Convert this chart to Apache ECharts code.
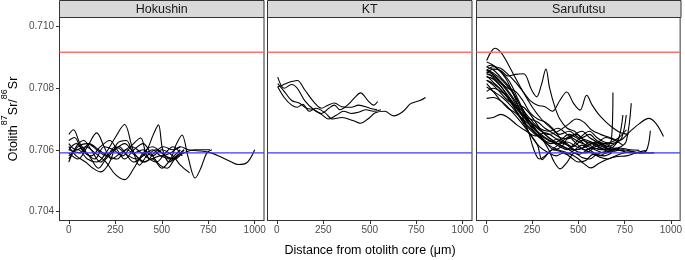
<!DOCTYPE html>
<html>
<head>
<meta charset="utf-8">
<script src="https://cdn.jsdelivr.net/npm/echarts@6/dist/echarts.min.js"></script>
<style>
html, body { margin: 0; padding: 0; background: #fff; }
#chart { width: 685px; height: 260px; }
</style>
</head>
<body>
<div id="chart"></div>
<script>
// facets, ticks and reference ratios
var panelNames = ['Hokushin', 'KT', 'Sarufutsu'];
var xTicks = [0, 250, 500, 750, 1000];
var yTicks = [0.704, 0.706, 0.708, 0.710];
var xLimits = [-50, 1050];
var yLimits = [0.7037, 0.7103];
var redRatio = 0.70917;
var blueRatio = 0.70590;

// one array of [distance, ratio] per fish
var hokushin = [
	[[0,0.7057],[50,0.7061],[100,0.7062],[150,0.7060],[200,0.7058],[250,0.7061],[300,0.7059],[350,0.7056],[400,0.7058],[450,0.7060],[500,0.7058],[550,0.7059],[600,0.7061],[644,0.7060],[724,0.70595],[769,0.70589],[813,0.70578],[870,0.70562],[911,0.70552],[956,0.70557],[1000,0.7060]],
	[[0,0.7060],[40,0.7062],[90,0.7059],[140,0.7057],[190,0.7061],[240,0.7060],[290,0.7058],[340,0.7061],[390,0.7059],[440,0.7057],[490,0.7058],[540,0.7057],[580,0.7062],[609,0.70648],[640,0.7058],[680,0.70508],[710,0.7054],[742,0.70589],[770,0.7060]],
	[[0,0.7058],[50,0.7060],[100,0.7057],[150,0.7056],[200,0.7059],[250,0.7064],[300,0.70682],[340,0.7061],[380,0.7055],[420,0.7058],[470,0.7060],[520,0.7058],[570,0.7057],[620,0.7060]],
	[[0,0.7062],[40,0.7060],[90,0.7061],[140,0.7059],[200,0.7056],[250,0.7052],[300,0.70503],[350,0.7054],[400,0.7059],[450,0.7061],[500,0.7059],[550,0.7057],[600,0.7059]],
	[[0,0.7056],[40,0.7061],[80,0.7063],[120,0.7060],[170,0.7056],[220,0.7059],[270,0.7061],[320,0.7058],[370,0.7057],[420,0.7060],[455,0.7065],[482,0.70681],[505,0.7060],[540,0.7056],[580,0.7058],[620,0.7060]],
	[[0,0.7065],[25,0.70665],[60,0.7062],[110,0.7058],[160,0.7054],[200,0.7057],[250,0.7060],[300,0.7062],[350,0.7059],[400,0.7056],[450,0.7057],[500,0.7054],[550,0.7057],[600,0.7060]],
	[[0,0.7059],[50,0.7057],[100,0.7061],[150,0.70655],[190,0.7061],[230,0.7057],[280,0.7059],[330,0.7061],[386,0.70638],[420,0.7058],[470,0.7056],[520,0.7059],[560,0.7061],[610,0.7058]],
	[[0,0.7061],[40,0.7058],[90,0.7056],[130,0.7054],[172,0.70528],[220,0.7056],[260,0.7062],[310,0.7063],[350,0.7059],[400,0.7060],[450,0.7058],[500,0.7060],[560,0.7058],[600,0.7055],[650,0.70525]],
	[[0,0.7063],[30,0.7064],[70,0.7060],[120,0.7058],[170,0.7061],[220,0.7063],[260,0.7060],[300,0.7057],[350,0.7060],[400,0.7062],[440,0.7059],[490,0.7055],[530,0.7054],[570,0.7057],[620,0.7059],[680,0.7060],[760,0.7060]],
	[[0,0.7060],[60,0.7059],[110,0.7062],[160,0.7060],[210,0.7058],[260,0.7057],[310,0.7060],[360,0.7058],[410,0.7056],[460,0.7059],[510,0.7061],[560,0.7060],[600,0.7061]]
];

var kt = [
	[[5,0.70836],[40,0.70800],[80,0.70812],[110,0.70800],[150,0.70760],[200,0.70730],[240,0.70718],[280,0.70735],[310,0.70745],[340,0.70730],[380,0.70745],[420,0.70770],[450,0.70785],[490,0.70760],[520,0.70745],[543,0.70757]],
	[[5,0.70805],[40,0.70770],[80,0.70745],[110,0.70738],[140,0.70748],[175,0.70725],[210,0.70735],[260,0.70720],[300,0.70700],[350,0.70705],[410,0.70695],[450,0.70686],[490,0.70700],[530,0.70720],[580,0.70725],[628,0.70710],[680,0.70725],[720,0.70750],[770,0.70760],[800,0.70770]],
	[[5,0.70805],[30,0.70810],[70,0.70820],[110,0.70825],[150,0.70795],[200,0.70755],[240,0.70735],[275,0.70745],[310,0.70752],[350,0.70740],[400,0.70738],[440,0.70745],[500,0.70735],[540,0.70730]],
	[[5,0.70815],[40,0.70790],[80,0.70760],[120,0.70752],[160,0.70735],[200,0.70730],[240,0.70715],[280,0.70700],[320,0.70712],[360,0.70725],[400,0.70718],[440,0.70722],[480,0.70730],[520,0.70725],[560,0.70730]]
];

var sarufutsu = [
	[[5,0.70890],[30,0.70920],[50,0.70930],[80,0.70918],[110,0.70890],[150,0.70845],[200,0.70790],[250,0.70740],[300,0.70700],[350,0.70672],[400,0.70650],[450,0.70660],[500,0.70640],[550,0.70630],[600,0.70618],[650,0.70605],[700,0.70600],[750,0.70598]],
	[[5,0.70850],[40,0.70862],[80,0.70858],[120,0.70840],[160,0.70845],[204,0.70847],[248,0.70794],[275,0.70772],[300,0.70810],[325,0.70862],[345,0.70800],[373,0.70740],[400,0.70700],[440,0.70670],[480,0.70660],[520,0.70640],[560,0.70650],[600,0.70630],[640,0.70620],[680,0.70625],[720,0.70640],[760,0.70665]],
	[[5,0.70858],[40,0.70870],[80,0.70865],[120,0.70845],[160,0.70820],[200,0.70790],[240,0.70760],[280,0.70745],[320,0.70740],[360,0.70725],[400,0.70760],[437,0.70788],[475,0.70750],[509,0.70729],[545,0.70777],[575,0.70745],[610,0.70715],[650,0.70690],[690,0.70670],[730,0.70655],[770,0.70650]],
	[[5,0.70847],[40,0.70840],[90,0.70810],[140,0.70770],[190,0.70720],[240,0.70690],[290,0.70665],[340,0.70650],[390,0.70660],[440,0.70680],[490,0.70700],[530,0.70690],[570,0.70665],[620,0.70650],[670,0.70640],[720,0.70630],[780,0.70660],[830,0.70685],[880,0.70702],[920,0.70685],[960,0.70643]],
	[[5,0.70837],[40,0.70830],[90,0.70800],[140,0.70760],[190,0.70720],[240,0.70680],[290,0.70650],[340,0.70630],[390,0.70620],[440,0.70640],[490,0.70650],[540,0.70625],[590,0.70605],[630,0.70600],[660,0.70612],[679,0.70632],[687,0.70786]],
	[[5,0.70826],[40,0.70815],[90,0.70790],[140,0.70755],[190,0.70715],[240,0.70690],[290,0.70665],[340,0.70640],[390,0.70620],[440,0.70605],[490,0.70600],[540,0.70610],[590,0.70625],[640,0.70615],[690,0.70605],[730,0.70610],[760,0.70630],[786,0.70751]],
	[[5,0.70804],[40,0.70790],[90,0.70770],[140,0.70740],[190,0.70700],[240,0.70665],[290,0.70640],[340,0.70625],[390,0.70635],[440,0.70620],[490,0.70595],[540,0.70590],[590,0.70605],[640,0.70600],[690,0.70610],[720,0.70640],[741,0.70713]],
	[[5,0.70869],[40,0.70860],[90,0.70830],[140,0.70795],[180,0.70750],[220,0.70700],[260,0.70660],[300,0.70640],[350,0.70620],[400,0.70630],[450,0.70650],[500,0.70635],[550,0.70615],[600,0.70625],[650,0.70610],[700,0.70620],[735,0.70640],[759,0.70713]],
	[[5,0.70702],[40,0.70705],[80,0.70715],[120,0.70705],[170,0.70680],[220,0.70660],[270,0.70645],[320,0.70655],[370,0.70640],[420,0.70620],[470,0.70610],[520,0.70630],[570,0.70620],[620,0.70605],[670,0.70600],[720,0.70602]],
	[[5,0.70767],[40,0.70770],[90,0.70755],[140,0.70725],[190,0.70690],[240,0.70650],[280,0.70615],[304,0.70568],[340,0.70590],[390,0.70615],[440,0.70625],[490,0.70610],[540,0.70600],[590,0.70610],[640,0.70620],[690,0.70605],[740,0.70595],[800,0.70590],[850,0.70590],[910,0.70590]],
	[[5,0.70853],[40,0.70845],[90,0.70815],[140,0.70775],[190,0.70730],[240,0.70690],[290,0.70650],[340,0.70600],[370,0.70560],[402,0.70538],[440,0.70560],[480,0.70590],[520,0.70575],[560,0.70570],[600,0.70585],[650,0.70595],[700,0.70600]],
	[[5,0.70847],[40,0.70835],[90,0.70800],[140,0.70750],[190,0.70705],[240,0.70670],[290,0.70640],[340,0.70615],[390,0.70600],[440,0.70590],[490,0.70575],[530,0.70555],[568,0.70541],[610,0.70555],[660,0.70570],[710,0.70578],[760,0.70580],[820,0.70592],[870,0.70598]],
	[[5,0.70858],[40,0.70850],[90,0.70825],[140,0.70790],[190,0.70740],[240,0.70700],[290,0.70670],[340,0.70660],[390,0.70670],[440,0.70650],[490,0.70630],[540,0.70615],[590,0.70600],[640,0.70590],[690,0.70595],[740,0.70600],[790,0.70595],[840,0.70590],[870,0.70600],[889,0.70662]],
	[[5,0.70885],[40,0.70875],[90,0.70850],[130,0.70820],[170,0.70770],[210,0.70720],[250,0.70680],[290,0.70650],[330,0.70620],[370,0.70600],[410,0.70610],[450,0.70640],[490,0.70620],[530,0.70600],[570,0.70590],[610,0.70580],[650,0.70590],[690,0.70600],[730,0.70605],[780,0.70600],[830,0.70598]],
	[[5,0.70826],[40,0.70810],[80,0.70785],[120,0.70760],[160,0.70745],[200,0.70740],[240,0.70715],[280,0.70680],[320,0.70650],[360,0.70630],[400,0.70615],[450,0.70600],[500,0.70585],[550,0.70600],[600,0.70620],[650,0.70640],[700,0.70630],[740,0.70615]],
	[[5,0.70790],[40,0.70800],[80,0.70790],[120,0.70770],[160,0.70740],[200,0.70715],[240,0.70700],[280,0.70690],[320,0.70670],[360,0.70655],[400,0.70640],[440,0.70635],[480,0.70650],[520,0.70660],[560,0.70640],[600,0.70625],[640,0.70610],[680,0.70600]],
	[[5,0.70870],[30,0.70875],[70,0.70860],[110,0.70830],[150,0.70780],[190,0.70720],[230,0.70660],[260,0.70600],[290,0.70570],[320,0.70580],[360,0.70600],[400,0.70595],[440,0.70585],[480,0.70600],[520,0.70615],[560,0.70600],[600,0.70585],[640,0.70580],[680,0.70590]],
	[[5,0.70815],[40,0.70790],[80,0.70760],[120,0.70735],[160,0.70720],[200,0.70700],[240,0.70680],[280,0.70660],[320,0.70640],[360,0.70625],[400,0.70610],[440,0.70600],[480,0.70620],[520,0.70645],[560,0.70660],[600,0.70640],[640,0.70625],[680,0.70620],[720,0.70630]],
	[[5,0.70840],[40,0.70820],[90,0.70790],[140,0.70750],[190,0.70700],[240,0.70650],[290,0.70610],[340,0.70590],[380,0.70580],[420,0.70590],[460,0.70575],[500,0.70560],[540,0.70565],[580,0.70585],[620,0.70575],[660,0.70570],[700,0.70580],[750,0.70590],[800,0.70595]],
	[[5,0.70860],[40,0.70845],[80,0.70820],[120,0.70800],[160,0.70790],[200,0.70760],[240,0.70720],[280,0.70700],[320,0.70690],[360,0.70670],[400,0.70640],[440,0.70615],[480,0.70600],[520,0.70605],[560,0.70625],[600,0.70615],[640,0.70600],[680,0.70590]]
];

var panelFish = [hokushin, kt, sarufutsu];

var chart = echarts.init(document.getElementById('chart'), null, {renderer: 'canvas'});
var fontFamily = '"Liberation Sans", Arial, Helvetica, sans-serif';
var panelLeft = [59.5, 267.5, 476.5];
var panelWidth = 204.5;
var panelTop = 17.5;
var panelHeight = 203;

var grid = [], xAxis = [], yAxis = [], series = [], graphic = [];

function refLine(i, ratio, color, width) {
	return {
		type: 'line',
		xAxisIndex: i,
		yAxisIndex: i,
		data: [[xLimits[0], ratio], [xLimits[1], ratio]],
		showSymbol: false,
		silent: true,
		z: 3,
		lineStyle: {color: color, width: width}
	};
}

panelNames.forEach(function(name, i) {
	grid.push({
		left: panelLeft[i],
		top: panelTop,
		width: panelWidth,
		height: panelHeight,
		show: true,
		borderColor: '#333333',
		borderWidth: 1,
		backgroundColor: '#fff'
	});
	xAxis.push({
		type: 'value',
		gridIndex: i,
		min: xLimits[0],
		max: xLimits[1],
		axisLine: {show: true, onZero: false, lineStyle: {color: '#333333', width: 1}},
		axisTick: {show: true, length: 3.5, customValues: xTicks, lineStyle: {color: '#333333', width: 1}},
		axisLabel: {
			customValues: xTicks,
			color: '#4D4D4D',
			fontSize: 10,
			fontFamily: fontFamily,
			margin: 5,
			formatter: function(v) { return String(v); }
		},
		splitLine: {show: false}
	});
	yAxis.push({
		type: 'value',
		gridIndex: i,
		min: yLimits[0],
		max: yLimits[1],
		axisLine: {show: true, onZero: false, lineStyle: {color: '#333333', width: 1}},
		axisTick: {show: i === 0, length: 3.5, customValues: yTicks, lineStyle: {color: '#333333', width: 1}},
		axisLabel: {
			show: i === 0,
			customValues: yTicks,
			color: '#4D4D4D',
			fontSize: 10,
			fontFamily: fontFamily,
			margin: 5.5,
			formatter: function(v) { return v.toFixed(3); }
		},
		splitLine: {show: false}
	});

	panelFish[i].forEach(function(fish) {
		series.push({
			type: 'line',
			xAxisIndex: i,
			yAxisIndex: i,
			data: fish,
			showSymbol: false,
			smooth: 0.35,
			silent: true,
			z: 2,
			lineStyle: {color: '#000', width: 1.1}
		});
	});

	// red and blue reference ratios, across the full panel
	series.push(refLine(i, redRatio, '#FF6F6F', 1.6));
	series.push(refLine(i, blueRatio, '#3A3AFF', 1.4));

	// facet strip
	graphic.push({
		type: 'rect',
		shape: {x: panelLeft[i], y: 0.5, width: panelWidth, height: panelTop - 0.5},
		style: {fill: '#D9D9D9', stroke: '#333333', lineWidth: 1}
	});
	graphic.push({
		type: 'text',
		x: panelLeft[i] + panelWidth / 2,
		y: 9.5,
		style: {text: name, align: 'center', verticalAlign: 'middle', fontSize: 12.5, fontFamily: fontFamily, fill: '#1A1A1A'}
	});
});

// axis titles
graphic.push({
	type: 'text',
	x: 370,
	y: 251,
	style: {text: 'Distance from otolith core (μm)', align: 'center', verticalAlign: 'middle', fontSize: 12.5, fontFamily: fontFamily, fill: '#000'}
});
graphic.push({
	type: 'text',
	x: 10,
	y: 119,
	rotation: Math.PI / 2,
	style: {
		text: '{m|Otolith}{s|87}{m|Sr/}{s|86}{m|Sr}',
		align: 'center',
		verticalAlign: 'middle',
		fill: '#000',
		rich: {
			m: {fontSize: 12.5, fontFamily: fontFamily, lineHeight: 20, verticalAlign: 'bottom', fill: '#000'},
			s: {fontSize: 9, fontFamily: fontFamily, lineHeight: 10, verticalAlign: 'top', fill: '#000'}
		}
	}
});

chart.setOption({
	animation: false,
	backgroundColor: '#fff',
	grid: grid,
	xAxis: xAxis,
	yAxis: yAxis,
	series: series,
	graphic: graphic
});
</script>
</body>
</html>
